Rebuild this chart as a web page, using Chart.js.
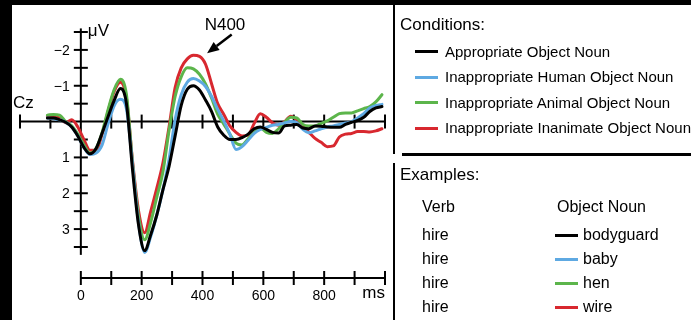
<!DOCTYPE html>
<html>
<head>
<meta charset="utf-8">
<script src="https://cdn.jsdelivr.net/npm/chart.js@4.4.1/dist/chart.umd.min.js"></script>
<style>
    html, body { margin: 0; padding: 0; background: #000; }
    body {
        position: relative; width: 691px; height: 320px; overflow: hidden;
        font-family: "Liberation Sans", Arial, sans-serif; color: #000;
    }
    #paper { position: absolute; left: 12px; top: 5px; width: 679px; height: 315px; background: #fff; }
    #erp { position: absolute; left: 0; top: 0; }
    .rule { position: absolute; background: #000; }
    .txt { position: absolute; white-space: nowrap; line-height: 20px; }
    .key { position: absolute; height: 3px; width: 23px; }
</style>
</head>
<body>
<div id="paper"></div>
<canvas id="erp" width="691" height="320"></canvas>

<!-- side panel -->
<div class="rule" style="left:393px; top:5px; width:2px; height:149px;"></div>
<div class="rule" style="left:402px; top:153px; width:289px; height:3px;"></div>
<div class="rule" style="left:393px; top:163px; width:2px; height:157px;"></div>
<div id="panel"></div>

<script>
(function () {
    "use strict";

    // time points (ms) shared by all four waveforms
    var times = [-110, -90, -70, -50, -30, -10, 10, 30, 50, 70, 90, 110, 130, 150,
        170, 190, 210, 230, 250, 270, 290, 310, 330, 350, 370, 390, 410, 430,
        450, 470, 490, 510, 530, 550, 570, 590, 610, 630, 650, 670, 690, 710,
        730, 750, 770, 790, 810, 830, 850, 870, 890, 910, 930, 950, 970, 990];

    // amplitudes in microvolts (negative plotted up)
    var appropriate = [-0.1, -0.1, -0.05, 0.02, 0.15, 0.4, 0.72, 0.9, 0.75, 0.32, -0.15, -0.6, -0.92, -0.5,
        1.35, 2.9, 3.6, 3.15, 2.6, 1.9, 1.25, 0.4, -0.45, -0.9, -1.0, -0.88, -0.6, -0.28,
        0.15, 0.38, 0.5, 0.5, 0.45, 0.35, 0.2, 0.15, 0.22, 0.3, 0.32, 0.12, 0.1, 0.08,
        0.18, 0.2, 0.12, 0.13, 0.15, 0.16, 0.16, 0.08, 0.02, -0.03, -0.12, -0.28, -0.38, -0.42];
    var human = [-0.1, -0.08, -0.05, 0.02, 0.15, 0.4, 0.72, 0.92, 0.88, 0.65, 0.05, -0.45, -0.62, -0.35,
        1.2, 2.85, 3.65, 3.2, 2.6, 1.9, 1.05, -0.05, -0.75, -1.1, -1.2, -1.13, -0.98, -0.7,
        -0.34, -0.02, 0.35, 0.78, 0.7, 0.52, 0.33, 0.22, 0.16, 0.1, 0.08, 0.04, 0.0, 0.03,
        0.22, 0.31, 0.26, 0.2, 0.15, 0.12, 0.08, 0.04, 0.0, -0.1, -0.22, -0.38, -0.45, -0.48];
    var animal = [-0.18, -0.2, -0.18, 0.0, 0.12, 0.35, 0.65, 0.88, 0.75, 0.3, -0.35, -0.9, -1.18, -0.75,
        1.15, 2.65, 3.3, 2.8, 2.1, 1.4, 0.25, -0.7, -1.25, -1.5, -1.47, -1.32, -1.05, -0.65,
        -0.2, 0.07, 0.35, 0.6, 0.65, 0.48, 0.3, 0.18, 0.3, 0.33, 0.2, 0.02, -0.12, -0.1,
        0.08, 0.12, 0.12, 0.05, -0.02, -0.12, -0.22, -0.24, -0.24, -0.3, -0.36, -0.42, -0.55, -0.75];
    var inanimate = [-0.15, -0.15, -0.1, 0.03, -0.05, 0.15, 0.5, 0.8, 0.8, 0.35, -0.3, -0.85, -1.1, -0.65,
        1.1, 2.5, 3.1, 2.5, 1.85, 1.15, 0.15, -0.95, -1.5, -1.75, -1.85, -1.82, -1.6, -1.05,
        -0.5, -0.2, 0.12, 0.3, 0.4, 0.38, 0.05, -0.22, -0.12, 0.03, 0.1, 0.0, -0.15, -0.06,
        0.12, 0.3, 0.47, 0.58, 0.7, 0.68, 0.43, 0.35, 0.33, 0.28, 0.28, 0.29, 0.26, 0.2];

    var conditionNames = ["Appropriate Object Noun", "Inappropriate Human Object Noun",
        "Inappropriate Animal Object Noun", "Inappropriate Inanimate Object Noun"];
    var conditionColors = ["#000000", "#5ea9e2", "#5cb54b", "#d8282f"];
    var exampleVerbs = ["hire", "hire", "hire", "hire"];
    var exampleNouns = ["bodyguard", "baby", "hen", "wire"];

    // axis ticks
    var yMajor = [-2, -1, 1, 2, 3];
    var yMinor = [-2.5, -1.5, -0.5, 0.5, 1.5, 2.5, 3.5];
    var baseTicks = [-200, -100, 100, 200, 300, 400, 500, 600, 700, 800, 900, 1000];
    var msTicks = [0, 100, 200, 300, 400, 500, 600, 700, 800, 900, 1000];
    var msLabels = [0, 200, 400, 600, 800];

    var FONT = '"Liberation Sans", Arial, sans-serif';

    function series(values) {
        return values.map(function (v, i) { return { x: times[i], y: v }; });
    }

    function line(ctx, x1, y1, x2, y2) {
        ctx.beginPath();
        ctx.moveTo(x1, y1);
        ctx.lineTo(x2, y2);
        ctx.stroke();
    }

    var erpAxes = {
        id: "erpAxes",
        beforeDatasetsDraw: function (chart) {
            var ctx = chart.ctx, xs = chart.scales.x, ys = chart.scales.y;
            var x0 = xs.getPixelForValue(0), y0 = ys.getPixelForValue(0);
            ctx.save();
            ctx.strokeStyle = "#000";
            ctx.lineWidth = 2;

            // zero line with ticks
            line(ctx, xs.getPixelForValue(-200), y0, xs.getPixelForValue(1000), y0);
            baseTicks.forEach(function (t) {
                var px = xs.getPixelForValue(t);
                line(ctx, px, y0 - 7, px, y0 + 7);
            });

            // voltage axis
            line(ctx, x0, ys.getPixelForValue(-2.6), x0, ys.getPixelForValue(3.72));
            yMajor.concat(yMinor).forEach(function (v) {
                var py = ys.getPixelForValue(v);
                line(ctx, x0 - 7, py, x0 + 7, py);
            });

            // time axis under the plot
            var by = chart.chartArea.bottom + 31;
            line(ctx, x0, by, xs.getPixelForValue(1000), by);
            msTicks.forEach(function (t) {
                var px = xs.getPixelForValue(t);
                line(ctx, px, by - 7, px, by + 7);
            });

            ctx.fillStyle = "#000";
            ctx.font = "14px " + FONT;
            ctx.textAlign = "right";
            ctx.textBaseline = "middle";
            yMajor.forEach(function (v) {
                var lab = v < 0 ? "\u2212" + Math.abs(v) : String(v);
                ctx.fillText(lab, x0 - 11, ys.getPixelForValue(v) + 1);
            });

            ctx.textAlign = "center";
            ctx.font = "14px " + FONT;
            msLabels.forEach(function (t) {
                ctx.fillText(String(t), xs.getPixelForValue(t), by + 18);
            });
            ctx.font = "17px " + FONT;
            ctx.textAlign = "right";
            ctx.fillText("ms", xs.getPixelForValue(1000), by + 15);

            ctx.textAlign = "left";
            ctx.fillText("\u03bcV", x0 + 7, ys.getPixelForValue(-2.5) - 1);
            ctx.fillText("Cz", 13, y0 - 18);
            ctx.restore();
        },
        afterDatasetsDraw: function (chart) {
            var ctx = chart.ctx, xs = chart.scales.x, ys = chart.scales.y;
            ctx.save();
            ctx.fillStyle = "#000";
            ctx.strokeStyle = "#000";
            ctx.font = "17px " + FONT;
            ctx.textAlign = "center";
            ctx.textBaseline = "middle";
            ctx.fillText("N400", xs.getPixelForValue(474), ys.getPixelForValue(-2.68));

            // arrow to the N400 peak
            var tx = xs.getPixelForValue(415), ty = ys.getPixelForValue(-1.91);
            var sx = xs.getPixelForValue(496), sy = ys.getPixelForValue(-2.43);
            var ang = Math.atan2(ty - sy, tx - sx);
            var hl = 12, hw = 5;
            var bx = tx - hl * Math.cos(ang), byy = ty - hl * Math.sin(ang);
            ctx.lineWidth = 2.5;
            line(ctx, sx, sy, bx, byy);
            ctx.beginPath();
            ctx.moveTo(tx, ty);
            ctx.lineTo(bx + hw * Math.sin(ang), byy - hw * Math.cos(ang));
            ctx.lineTo(bx - hw * Math.sin(ang), byy + hw * Math.cos(ang));
            ctx.closePath();
            ctx.fill();
            ctx.restore();
        }
    };

    function buildPanel() {
        var panel = document.getElementById("panel");
        var html = "";
        function text(str, left, mid, size) {
            html += '<div class="txt" style="left:' + left + 'px; top:' + Math.round(mid - 10) +
                'px; font-size:' + size + 'px;">' + str + "</div>";
        }
        function key(color, left, mid) {
            html += '<div class="key" style="left:' + left + 'px; top:' + Math.round(mid - 1.5) +
                'px; background:' + color + ';"></div>';
        }
        var condMid = [51.5, 77, 102.5, 128];
        text("Conditions:", 400, 25, 17);
        conditionNames.forEach(function (name, i) {
            key(conditionColors[i], 415, condMid[i]);
            text(name, 445, condMid[i], 15);
        });
        var exMid = [235, 259, 283, 307];
        text("Examples:", 400, 175, 17);
        text("Verb", 422, 207, 16);
        text("Object Noun", 557, 207, 16);
        exampleVerbs.forEach(function (verb, i) {
            text(verb, 422, exMid[i], 16);
            key(conditionColors[i], 555, exMid[i]);
            text(exampleNouns[i], 583, exMid[i], 16);
        });
        panel.innerHTML = html;
    }

    function initChart() {
        var canvas = document.getElementById("erp");
        if (!canvas || typeof Chart === "undefined") {
            return;
        }
        var values = [appropriate, human, animal, inanimate];
        var datasets = values.map(function (vals, i) {
            return {
                label: conditionNames[i],
                data: series(vals),
                borderColor: conditionColors[i],
                borderWidth: 3,
                pointRadius: 0,
                fill: false,
                cubicInterpolationMode: "monotone",
                borderJoinStyle: "round",
                borderCapStyle: "round",
                clip: false
            };
        });

        new Chart(canvas, {
            type: "line",
            data: { datasets: datasets },
            options: {
                responsive: false,
                animation: false,
                devicePixelRatio: 1,
                layout: { padding: { left: 20, right: 306, top: 32, bottom: 73 } },
                scales: {
                    x: { type: "linear", min: -200, max: 1000, display: false },
                    y: { min: -2.5, max: 3.5, reverse: true, display: false }
                },
                plugins: {
                    legend: { display: false },
                    tooltip: { enabled: false }
                }
            },
            plugins: [erpAxes]
        });
    }

    buildPanel();
    initChart();
})();
</script>
</body>
</html>
